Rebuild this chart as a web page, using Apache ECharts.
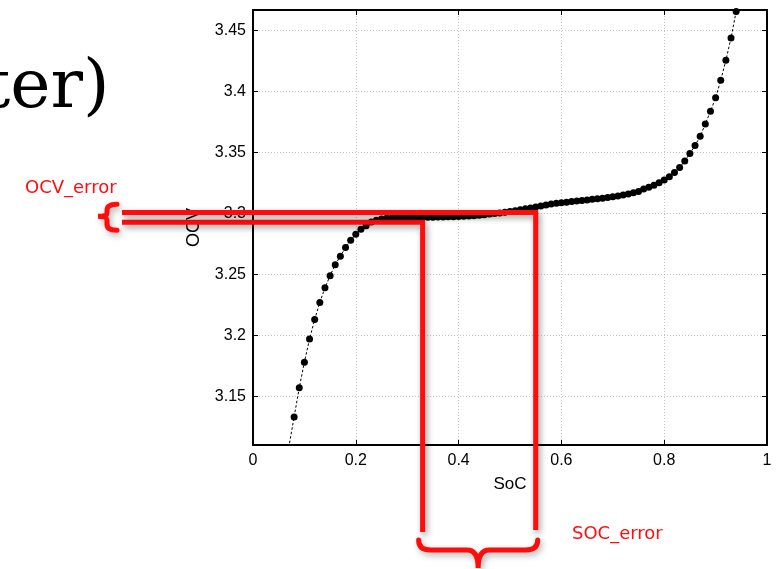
<!DOCTYPE html>
<html>
<head>
<meta charset="utf-8">
<script src="https://cdn.jsdelivr.net/npm/echarts@6/dist/echarts.min.js"></script>
<style>html,body{margin:0;padding:0;background:#fff;}#chart{width:783px;height:569px;}</style>
</head>
<body>
<div id="chart"></div>
<script>
// ---- data ----
var socValues = [0.08,0.09,0.10,0.11,0.12,0.13,0.14,0.15,0.16,0.17,0.18,0.19,0.20,0.21,0.22,0.23,0.24,0.25,0.26,0.27,0.28,0.29,0.30,0.31,0.32,0.33,0.34,0.35,0.36,0.37,0.38,0.39,0.40,0.41,0.42,0.43,0.44,0.45,0.46,0.47,0.48,0.49,0.50,0.51,0.52,0.53,0.54,0.55,0.56,0.57,0.58,0.59,0.60,0.61,0.62,0.63,0.64,0.65,0.66,0.67,0.68,0.69,0.70,0.71,0.72,0.73,0.74,0.75,0.76,0.77,0.78,0.79,0.80,0.81,0.82,0.83,0.84,0.85,0.86,0.87,0.88,0.89,0.90,0.91,0.92,0.93,0.94];
var ocvValues = [3.133,3.157,3.178,3.197,3.213,3.227,3.239,3.249,3.258,3.265,3.272,3.278,3.283,3.287,3.290,3.293,3.2945,3.2955,3.296,3.2963,3.2965,3.2966,3.2967,3.2968,3.2968,3.2969,3.297,3.297,3.2971,3.2972,3.2973,3.2974,3.2975,3.2977,3.2979,3.2982,3.2986,3.299,3.2995,3.300,3.3005,3.301,3.3016,3.3023,3.303,3.3038,3.3046,3.3054,3.3062,3.307,3.3077,3.3083,3.3088,3.3093,3.3098,3.3103,3.3107,3.3111,3.3116,3.312,3.3125,3.3131,3.3137,3.3144,3.3151,3.316,3.317,3.318,3.320,3.3215,3.3232,3.3252,3.3275,3.3302,3.3337,3.3378,3.343,3.3492,3.3557,3.3634,3.3735,3.3839,3.395,3.4093,3.4257,3.444,3.4658];
// fitted dashed curve continues past the first and last markers
var curveStart = [0.065, 3.097];
var curveEnd = [0.948, 3.485];
// error window: SoC range and OCV range
var socError = [0.33, 0.55];
var ocvError = [3.2929, 3.3008];
var xTicks = [0, 0.2, 0.4, 0.6, 0.8, 1];
var yTicks = [3.15, 3.2, 3.25, 3.3, 3.35, 3.4, 3.45];
var titleFragment = 'ter)';
var ocvErrorLabel = 'OCV_error';
var socErrorLabel = 'SOC_error';

// ---- build ----
var dots = socValues.map(function (s, i) { return [s, ocvValues[i]]; });
var curve = [curveStart].concat(dots).concat([curveEnd]);

var RED = '#ff0d0d';
var layout = { leftEnd: 122, lowBottom: 532, highBottom: 530 };

function annotation(params, api) {
  var pL = api.coord([socError[0], ocvError[0]]);
  var pH = api.coord([socError[1], ocvError[1]]);
  var common = { stroke: RED, lineWidth: 5, fill: null, lineJoin: 'miter', lineCap: 'butt',
    shadowBlur: 6, shadowOffsetX: 2, shadowOffsetY: 3, shadowColor: 'rgba(0,0,0,0.4)' };
  var lowLine = { type: 'polyline', shape: { points: [[layout.leftEnd, pL[1]], [pL[0], pL[1]], [pL[0], layout.lowBottom]] }, style: common };
  var highLine = { type: 'polyline', shape: { points: [[layout.leftEnd, pH[1]], [pH[0], pH[1]], [pH[0], layout.highBottom]] }, style: common };
  var cy = (pL[1] + pH[1]) / 2;
  var bx = 117, px = 107, tip = 98;
  var lb = 'M' + bx + ' ' + (cy - 13) + ' Q' + px + ' ' + (cy - 13) + ' ' + px + ' ' + (cy - 7) +
           ' L' + px + ' ' + (cy - 4) + ' Q' + px + ' ' + (cy - 1) + ' ' + tip + ' ' + (cy - 1) +
           ' Q' + px + ' ' + (cy - 1) + ' ' + px + ' ' + (cy + 3) +
           ' L' + px + ' ' + (cy + 7) + ' Q' + px + ' ' + (cy + 13) + ' ' + bx + ' ' + (cy + 13);
  var leftBrace = { type: 'path', shape: { pathData: lb }, style: { stroke: RED, lineWidth: 5, fill: null, lineCap: 'round',
    shadowBlur: 6, shadowOffsetX: 2, shadowOffsetY: 3, shadowColor: 'rgba(0,0,0,0.3)' } };
  var x1 = pL[0] - 4, x2 = pH[0] + 2, cx = (x1 + x2) / 2, by = 550, top = 540, tipY = 568;
  var bb = 'M' + x1 + ' ' + top + ' Q' + x1 + ' ' + by + ' ' + (x1 + 12) + ' ' + by +
           ' L' + (cx - 11) + ' ' + by + ' Q' + cx + ' ' + by + ' ' + cx + ' ' + tipY +
           ' Q' + cx + ' ' + by + ' ' + (cx + 11) + ' ' + by +
           ' L' + (x2 - 12) + ' ' + by + ' Q' + x2 + ' ' + by + ' ' + x2 + ' ' + top;
  var bottomBrace = { type: 'path', shape: { pathData: bb }, style: { stroke: RED, lineWidth: 5, fill: null, lineCap: 'round',
    shadowBlur: 6, shadowOffsetX: 2, shadowOffsetY: 3, shadowColor: 'rgba(0,0,0,0.3)' } };
  return { type: 'group', children: [lowLine, highLine, leftBrace, bottomBrace] };
}

var chart = echarts.init(document.getElementById('chart'), null, { renderer: 'canvas' });
var axisFont = { fontFamily: 'Liberation Sans, Arial, sans-serif', fontSize: 16, color: '#000' };
var gridLine = { show: true, lineStyle: { color: '#c4c4c4', type: [1, 2], width: 1 } };

chart.setOption({
  animation: false,
  backgroundColor: '#fff',
  grid: { left: 253, right: 16, top: 10, bottom: 124, containLabel: false },
  xAxis: [{
    type: 'value', min: 0, max: 1, interval: 0.2, position: 'bottom',
    name: 'SoC', nameLocation: 'middle', nameGap: 31,
    nameTextStyle: { fontFamily: 'Liberation Sans, Arial, sans-serif', fontSize: 17, color: '#000' },
    axisLine: { show: true, onZero: false, lineStyle: { color: '#000', width: 2 } },
    axisTick: { show: true, inside: true, length: 5, lineStyle: { color: '#000', width: 1 } },
    axisLabel: Object.assign({ margin: 8, customValues: xTicks }, axisFont),
    splitLine: gridLine
  }, {
    type: 'value', min: 0, max: 1, interval: 0.2, position: 'top',
    axisLine: { show: true, onZero: false, lineStyle: { color: '#000', width: 2 } },
    axisTick: { show: true, inside: true, length: 5, lineStyle: { color: '#000', width: 1 } },
    axisLabel: { show: false }, splitLine: { show: false }
  }],
  yAxis: [{
    type: 'value', min: 3.11, max: 3.467, position: 'left',
    name: 'OCV', nameLocation: 'middle', nameGap: 50,
    nameTextStyle: { fontFamily: 'Liberation Sans, Arial, sans-serif', fontSize: 18, color: '#000' },
    axisLine: { show: true, onZero: false, lineStyle: { color: '#000', width: 2 } },
    axisTick: { show: true, inside: true, length: 5, customValues: yTicks, lineStyle: { color: '#000', width: 1 } },
    axisLabel: Object.assign({ margin: 7, customValues: yTicks }, axisFont),
    splitLine: gridLine
  }, {
    type: 'value', min: 3.11, max: 3.467, position: 'right',
    axisLine: { show: true, onZero: false, lineStyle: { color: '#000', width: 2 } },
    axisTick: { show: true, inside: true, length: 5, customValues: yTicks, lineStyle: { color: '#000', width: 1 } },
    axisLabel: { show: false }, splitLine: { show: false }
  }],
  series: [{
    type: 'line', data: curve, showSymbol: false, symbol: 'none', clip: true, smooth: false,
    lineStyle: { color: '#000', width: 1, type: [2.5, 2] }, z: 3, silent: true
  }, {
    type: 'scatter', data: dots, symbol: 'circle', symbolSize: 7, clip: true,
    itemStyle: { color: '#000', opacity: 1 }, z: 4, silent: true
  }, {
    type: 'custom', data: [[socError[0], ocvError[0], socError[1], ocvError[1]]],
    renderItem: annotation, clip: false, z: 10, silent: true
  }],
  graphic: [{
    type: 'text', left: -17, top: 55,
    style: { text: titleFragment, font: '68px "DejaVu Serif", serif', fill: '#000' }
  }, {
    type: 'text', left: 25, top: 179,
    style: { text: ocvErrorLabel, font: '18px "DejaVu Sans", sans-serif', fill: RED }
  }, {
    type: 'text', left: 572, top: 525,
    style: { text: socErrorLabel, font: '18px "DejaVu Sans", sans-serif', fill: RED }
  }]
});
</script>
</body>
</html>
